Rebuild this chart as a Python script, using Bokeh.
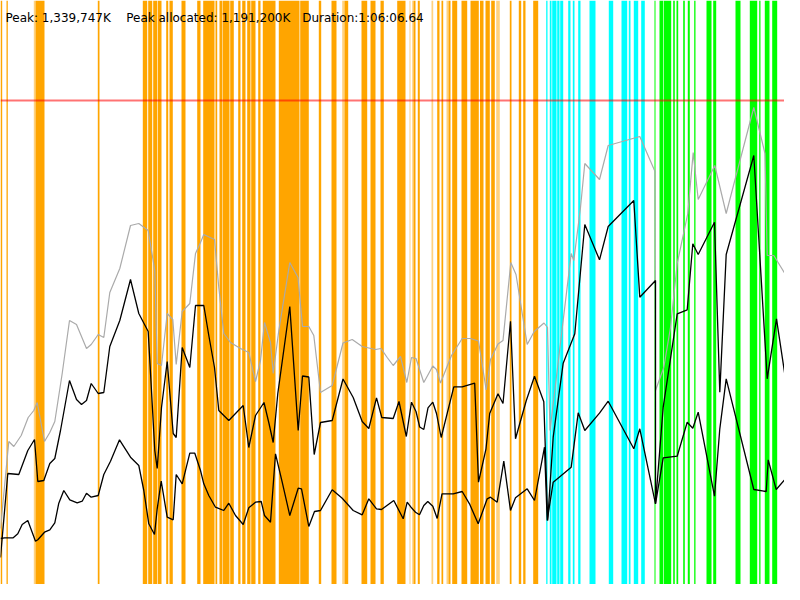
from bokeh.plotting import figure
from bokeh.models import Range1d, ColumnDataSource
from bokeh.embed import file_html
from bokeh.resources import INLINE
from bokeh.core.properties import value

# ---- summary texts ----
peak_text = "Peak: 1,339,747K"
alloc_text = "Peak allocated: 1,191,200K"
duration_text = "Duration:1:06:06.64"
peak_level = 500  # memory level of peak (chart units)

# ---- event bands (time start, time end) ----
orange_start = [0, 6, 35, 97.3, 142.3, 147.7, 152.7, 157.3, 165.7, 169, 181, 196.7,
                202.7, 215, 219, 222, 229.7, 237.7, 241.7, 246.7, 250.7, 257.7, 262.3,
                278.3, 299.7, 318.3, 331, 344, 361, 370, 380, 396.7, 413, 417.3, 436.7,
                441, 448, 451.7, 461, 470, 479.5, 485, 490.7, 509.3, 518.3, 522.7, 532.7]
orange_end = [1.7, 7.3, 44, 99, 146.7, 151.7, 156.7, 161, 167.7, 172.3, 185, 200,
              214, 216.7, 221.5, 229, 233.3, 240, 245, 250, 255, 260, 275,
              299, 308.3, 320.7, 336, 347.7, 366.7, 375, 383.3, 405, 415, 419.3, 439,
              442.7, 450, 456.7, 466.7, 478.3, 483, 489.3, 494.3, 511, 520.7, 525, 537.7]
orange_light_start = [33.3, 341.7, 409, 411.7, 431, 446, 495.7]
orange_light_end = [35, 344, 410, 413, 432.7, 448, 499.3]
cyan_start = [545.7, 549.3, 551.7, 556.7, 559.7, 567.7, 572.3, 577.7, 589, 608.3,
              621, 628.3, 633.3, 640.7]
cyan_end = [547, 551, 556, 559, 562.7, 570, 574, 580, 595, 612.7,
            626.7, 630, 637.7, 644.3]
green_start = [654, 659, 663.3, 672.7, 676, 682.7, 687.3, 693.7, 706, 712.7, 735,
               749.3, 758.7, 764.3, 771.7]
green_end = [655, 662.7, 670.7, 674.3, 677.7, 684.3, 689.3, 695, 711, 715.7, 740,
             756.7, 760, 769, 776.7]
pink_start = [786.7, 791, 795, 798.3]
pink_end = [788.3, 792.7, 796.7, 800]

# ---- memory series ----
total_t = [0, 8.3, 13.3, 20.7, 27.7, 33.3, 36.7, 44, 49.3, 54.3, 61.7, 69, 76, 86, 90.7,
           97.7, 103.3, 109.3, 119.3, 130, 138.3, 147.7, 154.3, 156.7, 161, 166.7, 172.3,
           175.7, 181.7, 189.3, 195, 200, 203.3, 214, 218.3, 223.3, 230, 240, 248.3, 255,
           260, 264, 270, 272.7, 278.3, 289.3, 297.5, 302, 308.3, 313.3, 320, 331.7, 342.5,
           351.7, 361.7, 375, 380.5, 386.7, 392.7, 400, 406.3, 411, 415.5, 423.3, 432.3,
           436, 440, 451, 461.7, 470, 478, 485.7, 490, 497.5, 502.5, 510.3, 515.5, 526.7,
           533.7, 543.5, 547, 549.5, 570.7, 573.3, 580, 584.3, 599, 607.7, 639.3, 654.5,
           655, 663.3, 670, 676.7, 687.3, 692.7, 697.7, 714.3, 725.7, 753.3, 764.5, 766.7,
           773.3, 784.3, 787.7, 800]
total_v = [72, 159, 154, 165, 183, 190, 198, 159, 168, 179, 227, 280, 276, 252, 256,
           266, 263, 308, 332, 375, 377, 370, 330, 237, 235, 287, 281,
           236, 289, 297, 347, 358, 366, 361, 313, 267, 258, 252, 248, 219,
           240, 278, 258, 227, 270, 338, 323, 274, 274, 265, 208, 215, 257.5,
           261, 254, 251, 252, 243, 235, 244, 218, 243, 242, 218, 234.5,
           231, 217.5, 245, 262, 262, 259.5, 210.5, 241, 256.5, 260, 338, 326, 256,
           269, 277.5, 273, 170, 347, 340, 393, 437, 421, 455, 464, 429,
           210, 233, 273, 337, 387, 448, 401, 435, 387, 493, 447, 345,
           345, 327, 178, 323]

alloc_t = [0, 7.3, 18.3, 27.3, 34, 37.3, 43.3, 49.3, 54.3, 60, 69, 76, 81, 86, 90.7, 97.7,
           103.3, 109.3, 119.3, 130, 138.3, 147.7, 154.3, 156.7, 161, 166.7, 172.7, 175.7,
           181.7, 189.3, 195, 203.3, 208.3, 214, 218.3, 228.3, 242.7, 248.3, 255, 263.5,
           268.5, 272.7, 277.3, 289.3, 297.7, 302, 308.3, 313.7, 320, 331.7, 342.5, 352.7,
           361.7, 368.3, 376, 381.3, 392.7, 398.5, 405.8, 411, 415.5, 419.2, 423.3, 427.5,
           432.3, 436, 440.7, 453.3, 461.7, 474.2, 478, 485.5, 489.2, 497.5, 502.5, 510,
           515, 525.8, 534, 543.3, 547.2, 552.7, 562.7, 574.3, 584.3, 599, 607.7, 633.3,
           639.3, 655, 655, 662.7, 676.7, 686.7, 692.3, 697.7, 714, 719.3, 725.7, 753.3,
           766.7, 776, 785, 788.3, 799.3]
alloc_v = [43, 127, 126, 150, 161, 119, 120, 137, 142, 170, 220, 201, 196, 200, 217, 207,
           208, 254, 280, 321, 287, 269, 150, 132, 193, 239, 167, 163,
           253, 233, 295, 295, 265, 233, 190, 180, 195, 153, 185, 198,
           177, 158, 207, 294, 170, 224.5, 223.5, 146, 178, 180, 221.5, 203,
           179, 172, 202.7, 183, 182, 199, 164, 198.3, 189, 173.5, 171, 192.7,
           198.3, 187, 163, 213.7, 213.7, 217.3, 118.3, 151.7, 187, 206.7, 197, 279.3,
           161.7, 200, 224.3, 198.7, 80, 163.3, 237.3, 266.7, 376, 340.7, 374, 400,
           303.3, 320, 97, 193.3, 286.7, 290.7, 356.7, 346, 378.3, 208.3, 346, 445,
           221.7, 281.7, 221.7, 87.3, 263.3]

used_t = [0, 4, 12.7, 17.3, 21.7, 27.3, 35, 37.3, 44, 49.3, 54.3, 58.3, 63.3, 69.3, 76.7,
          81.7, 86, 90.7, 97.7, 103.3, 110, 119, 130, 138.3, 143.3, 148.3, 154, 156.7,
          160.7, 166.7, 172.7, 175.7, 181.7, 189.3, 194.3, 200, 203.3, 208.3, 215, 223.3,
          228.3, 235, 242.7, 248.3, 255, 260.7, 264, 270, 275, 281.7, 289.3, 297.7, 301,
          308.3, 314, 320, 331.7, 341.7, 352.7, 361.7, 368.3, 376, 381, 393.3, 402.7,
          406.7, 411, 415, 419, 423.3, 427.3, 432.3, 436.7, 441.5, 452.7, 461.7, 469,
          477.7, 486.7, 490, 496.7, 503.3, 510, 515, 526.7, 534, 544, 546.7, 552.7, 570.7,
          577.7, 584.3, 599, 607.7, 633.3, 639.3, 655, 662.7, 676.7, 686.7, 692.3, 697.7,
          714, 719.3, 725.7, 753.3, 765.7, 767.7, 775.7, 785, 788.3, 799.3]
used_v = [62, 62.7, 62.7, 66.7, 76, 80, 59.3, 60.7, 68.3, 70.7, 77.7, 97.3, 110, 100.7, 97.7,
          99.3, 107.3, 103.3, 105, 126, 139.3, 160.7, 143.3, 135, 110, 76.7, 66, 91.7,
          119.3, 83.3, 80.7, 126, 116.7, 147.3, 147.3, 130, 116.7, 105, 93.3, 90,
          97.3, 85, 76, 92.7, 98.3, 99, 85, 78.3, 146.7, 118.3, 85, 112.3, 111.7,
          74, 89, 90, 110.7, 102.3, 90, 85.7, 101.7, 91.7, 91, 100, 81.7,
          98.3, 92.7, 88.3, 85.7, 95, 99, 94.3, 82, 106.7, 106.7, 109, 96.7,
          76.7, 101.7, 103.3, 98.3, 139.3, 90, 102.7, 111.7, 100, 153.3, 80, 118.3, 133.3,
          187.7, 170, 187.3, 199.3, 151.7, 171.7, 96.7, 142.7, 144.3, 178.3, 172.3, 188.3,
          104.3, 171.7, 221.7, 111, 109, 140.7, 111, 121.7, 87.3, 193.3]

# ---- figure ----
p = figure(width=784, height=584, output_backend="svg", toolbar_location=None,
           x_range=Range1d(0, 784), y_range=Range1d(16, 600),
           x_axis_location=None, y_axis_location=None, min_border=0,
           background_fill_color="white", border_fill_color="white",
           outline_line_color=None)
p.grid.visible = False

def bands(starts, ends, color, alpha):
    src = ColumnDataSource(dict(left=starts, right=ends,
                                bottom=[0] * len(starts), top=[600] * len(starts)))
    p.quad(left="left", right="right", bottom="bottom", top="top", source=src,
           fill_color=color, fill_alpha=alpha, line_color=None)

bands(orange_start, orange_end, "#FFA500", 1.0)
bands(orange_light_start, orange_light_end, "#FFA500", 0.5)
bands(cyan_start, cyan_end, "#00FFFF", 1.0)
bands(green_start, green_end, "#00FF00", 1.0)
bands(pink_start, pink_end, "#FFC0CB", 1.0)

p.line([0, 800], [peak_level, peak_level], line_color="#FF0000", line_alpha=0.55, line_width=2)

p.line(total_t, total_v, line_color="#AAAAAA", line_width=1.2)
p.line(alloc_t, alloc_v, line_color="#000000", line_width=1.3)
p.line(used_t, used_v, line_color="#000000", line_width=1.3)

for tx, label in [(5, peak_text), (125.7, alloc_text), (301.7, duration_text)]:
    p.text(x=[tx], y=[583], text=[label], text_font=value("DejaVu Sans"),
           text_font_size="12px", text_color="black", text_baseline="alphabetic")

open("out.html", "w").write(file_html(p, INLINE))
